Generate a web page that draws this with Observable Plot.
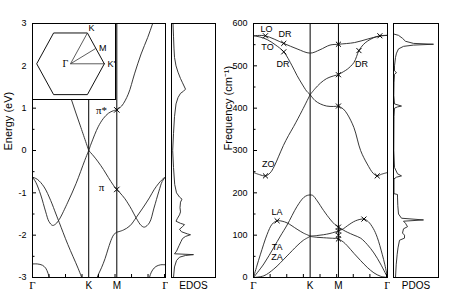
<!DOCTYPE html>
<html><head><meta charset="utf-8">
<script src="https://cdn.jsdelivr.net/npm/d3@7"></script>
<script src="https://cdn.jsdelivr.net/npm/@observablehq/plot@0.6"></script>
<style>
body{margin:0;background:#fff;}
#chart{position:relative;width:463px;height:298px;overflow:hidden;background:#fff;}
</style></head><body><div id="chart"></div>
<script>
// ---- high-symmetry path (length in 1/Å) ----
const symK = [0, 1.703, 2.554, 4.029];
const symLabels = ["Γ", "K", "M", "Γ"];
const kMinor = [0.5, 1, 1.5, 2, 2.5, 3, 3.5, 4];

// ---- electronic bands (eV) ----
const eMajor = [-3, -2, -1, 0, 1, 2, 3];
const eMinor = [-2.5, -1.5, -0.5, 0.5, 1.5, 2.5];
const piStarGK = [[0.6,2.9],[0.9,1.95],[1.18,1.2],[1.45,0.58],[1.703,0]];
const piStarKM = [[1.703,0],[1.786,0.18],[1.99,0.56],[2.15,0.76],[2.30,0.88],[2.45,0.94],[2.554,0.96]];
const piStarMG = [[2.554,0.96],[2.70,1.05],[2.90,1.33],[3.09,1.81],[3.29,2.28],[3.49,2.67],[3.64,3.0],[3.75,3.25]];
const piGK = [[0,-0.63],[0.1,-0.75],[0.25,-1.05],[0.40,-1.45],[0.50,-1.68],[0.61,-1.77],[0.71,-1.73],[0.81,-1.63],[1.07,-1.22],[1.32,-0.78],[1.58,-0.24],[1.703,0]];
const sigmaGK = [[0,-0.63],[0.145,-0.68],[0.35,-0.86],[0.55,-1.18],[0.71,-1.50],[0.81,-1.70],[1.07,-2.22],[1.38,-2.78],[1.53,-3.08]];
const sigma2GK = [[0,-2.68],[0.145,-2.68],[0.30,-2.71],[0.40,-2.78],[0.47,-2.90],[0.52,-3.05]];
const piKM = [[1.703,0],[1.85,-0.13],[1.99,-0.27],[2.15,-0.45],[2.30,-0.64],[2.45,-0.82],[2.554,-0.92]];
const sigmaKM = [[1.93,-3.05],[2.0,-2.92],[2.09,-2.77],[2.20,-2.55],[2.30,-2.30],[2.40,-2.08],[2.47,-1.98],[2.554,-1.93]];
const piMG = [[2.554,-0.92],[2.65,-1.0],[2.80,-1.14],[3.0,-1.39],[3.144,-1.60],[3.29,-1.77],[3.39,-1.81],[3.54,-1.71],[3.68,-1.36],[3.83,-0.96],[3.93,-0.73],[4.029,-0.63]];
const sigmaMG = [[2.554,-1.93],[2.75,-1.88],[2.95,-1.78],[3.144,-1.58],[3.34,-1.36],[3.54,-1.12],[3.68,-0.93],[3.83,-0.77],[3.98,-0.65],[4.029,-0.63]];
const sigma2MG = [[3.53,-3.05],[3.57,-2.93],[3.64,-2.82],[3.74,-2.74],[3.88,-2.70],[4.029,-2.70]];
const bandCrosses = [[2.554,0.96],[2.554,-0.92]];
const bandNotes = [{k:2.09,v:0.95,t:"π*"},{k:2.09,v:-0.88,t:"π"}];

// ---- EDOS (arbitrary units) ----
const edosE = [3.0,2.7,2.4,2.2,2.0,1.85,1.7,1.6,1.5,1.45,1.40,1.35,1.25,1.1,0.8,0.4,0.0,-0.4,-0.8,-1.0,-1.1,-1.15,-1.22,-1.35,-1.45,-1.52,-1.6,-1.67,-1.72,-1.75,-1.8,-1.86,-1.92,-1.97,-1.99,-2.03,-2.08,-2.15,-2.25,-2.38,-2.44,-2.46,-2.48,-2.52,-2.6,-2.75,-3.0];
const edosVal = [1.5,2,2.5,3,4.5,6.5,9,11,13,14,12,9,6.5,4.5,3,2,1.2,2,3.2,5,8,10.5,9,8.5,9,8,6,4.5,9,13,11,8,10,16,19,14,11,9.5,7.5,5,3,22,14,8,5,3,2];

// ---- Brillouin-zone inset ----
const hexagon = [[1,0],[0.5,0.866],[-0.5,0.866],[-1,0],[-0.5,-0.866],[0.5,-0.866],[1,0]];
const bzPoints = [{x:0,y:0,t:"Γ"},{x:0.5,y:0.866,t:"K"},{x:0.75,y:0.433,t:"M"},{x:1,y:0,t:"K'"}];

// ---- phonons (cm^-1) ----
const fMajor = [0, 100, 200, 300, 400, 500, 600];
const fMinor = [50, 150, 250, 350, 450, 550];
const loBranch = [[0,571],[0.34,571],[0.91,553],[1.31,540],[1.703,530],[2.0,538],[2.3,549],[2.554,551],[3.04,555],[3.42,563],[3.77,570],[4.029,572]];
const toGK = [[0,571],[0.2,568],[0.41,562],[0.65,550],[0.91,533],[1.16,500],[1.31,477],[1.46,457],[1.6,440],[1.703,432]];
const zoGK = [[0,248],[0.18,243],[0.36,240],[0.5,247],[0.62,262],[0.75,285],[0.9,312],[1.05,335],[1.21,357],[1.46,394],[1.703,432]];
const upKM = [[1.703,432],[1.85,446],[2.01,459],[2.2,470],[2.4,476],[2.554,479]];
const downKM = [[1.703,432],[1.85,418],[2.01,410],[2.2,405],[2.4,404],[2.554,405]];
const upMG = [[2.554,479],[2.7,486],[2.82,492],[3.02,508],[3.17,536],[3.3,550],[3.42,558],[3.6,566],[3.8,571],[4.029,572]];
const downMG = [[2.554,405],[2.7,398],[2.82,386],[3.02,354],[3.22,300],[3.42,268],[3.6,246],[3.72,240],[3.85,244],[4.029,248]];
const laGK = [[0,0],[0.1,27],[0.21,55],[0.41,102],[0.56,126],[0.71,134],[0.86,133],[1.01,129],[1.31,114],[1.5,105],[1.703,98]];
const taGK = [[0,0],[0.31,32],[0.61,71],[0.81,98],[1.01,124],[1.31,168],[1.51,189],[1.62,194],[1.703,195]];
const zaGK = [[0,0],[0.31,4],[0.61,20],[1.01,51],[1.31,75],[1.5,88],[1.703,97]];
const topKM = [[1.703,195],[1.78,194],[1.915,181],[2.11,158],[2.32,136],[2.45,125],[2.554,119]];
const midKM = [[1.703,98],[1.9,99],[2.1,101],[2.3,104],[2.554,110]];
const lowKM = [[1.703,97],[1.9,95],[2.1,94],[2.3,93],[2.554,92]];
const laMG = [[2.554,110],[2.7,115],[2.82,122],[3.07,134],[3.32,138],[3.45,132],[3.6,116],[3.72,95],[3.87,55],[3.95,30],[4.029,0]];
const taMG = [[2.554,119],[2.7,112],[2.82,107],[3.02,100],[3.22,93],[3.42,78],[3.62,58],[3.82,32],[4.029,0]];
const zaMG = [[2.554,91],[2.7,84],[2.82,75],[3.02,57],[3.22,40],[3.42,24],[3.62,11],[3.82,3],[4.029,0]];
const phCrosses = [[0.36,571],[0.91,553],[0.91,533],[0.36,240],[0.71,134],[2.554,551],[2.554,479],[2.554,405],[2.554,119],[2.554,110],[2.554,100],[2.554,91],[3.17,536],[3.8,571],[3.72,240],[3.32,138]];
const phNotes = [{k:0.39,f:587,t:"LO"},{k:0.95,f:575,t:"DR"},{k:0.42,f:545,t:"TO"},{k:0.89,f:504,t:"DR"},{k:3.25,f:504,t:"DR"},{k:0.44,f:268,t:"ZO"},{k:0.71,f:154,t:"LA"},{k:0.71,f:71,t:"TA"},{k:0.71,f:47,t:"ZA"}];

// ---- PDOS (arbitrary units) ----
const pdosF = [575,572,565,558,553,551,549,546,540,530,520,500,488,484,480,460,430,410,405,403,400,380,300,260,245,240,237,233,198,196,190,170,150,140,136,133,128,120,115,105,100,93,88,70,55,30,0];
const pdosVal = [0.5,5,9,12,20,40,20,10,5,3,2,1,1,3,1,0.5,0.3,1,8,4,1,0.5,0.3,1,4,8,3,0.5,0.5,4,4,4.3,5,8,30,10,12,14,10,9,11,11,6,4.5,3.7,2.7,2];

// ---------------------------------------------------------------
const SANS = "'Liberation Sans', Arial, Helvetica, sans-serif";
const SERIF = "'Liberation Serif', 'Times New Roman', serif";
const chart = document.getElementById("chart");
const xEnd = symK[3];
const rowsOf = (obj) => Object.entries(obj).flatMap(([s, pts]) => pts.map(([k, v]) => ({s, k, v})));

const bandRows = rowsOf({piStarGK, piStarKM, piStarMG, piGK, sigmaGK, sigma2GK, piKM, sigmaKM, piMG, sigmaMG, sigma2MG});
const phRows = rowsOf({loBranch, toGK, zoGK, upKM, downKM, upMG, downMG, laGK, taGK, zaGK, topKM, midKM, lowKM, laMG, taMG, zaMG});
const symRows = symK.map((k, i) => ({k, t: symLabels[i]}));
const edosRows = edosE.map((e, i) => ({e, d: edosVal[i]}));
const pdosRows = pdosF.map((f, i) => ({f, d: pdosVal[i]}));

function place(svg, left, top) {
  svg.style.position = "absolute";
  svg.style.left = left + "px";
  svg.style.top = top + "px";
  chart.appendChild(svg);
}
const baseStyle = {fontFamily: SANS, fontSize: "9px", background: "transparent", color: "black"};
const lineOpts = {curve: "catmull-rom", stroke: "#222", strokeWidth: 0.9, clip: true};

function symAxis() {
  return [
    Plot.text(symRows.filter(d => d.t === "Γ"), {x: "k", text: "t", frameAnchor: "bottom", dy: 11, fontFamily: SERIF, fontSize: 11}),
    Plot.text(symRows.filter(d => d.t !== "Γ"), {x: "k", text: "t", frameAnchor: "bottom", dy: 11, fontSize: 10})
  ];
}

// Band structure
place(Plot.plot({
  width: 168, height: 298, marginLeft: 32, marginRight: 3, marginTop: 23, marginBottom: 21,
  x: {domain: [0, xEnd], label: null}, y: {domain: [-3, 3], label: null},
  style: baseStyle,
  marks: [
    Plot.ruleX([symK[1], symK[2]], {stroke: "black", strokeWidth: 1}),
    Plot.line(bandRows, {x: "k", y: "v", z: "s", ...lineOpts}),
    Plot.dot(bandCrosses, {x: d => d[0], y: d => d[1], symbol: "times", r: 2.6, stroke: "black", strokeWidth: 1}),
    Plot.text(bandNotes, {x: "k", y: "v", text: "t", fontFamily: SERIF, fontSize: 11}),
    Plot.axisY({ticks: eMajor, tickSize: -4, tickPadding: 10, tickFormat: d => String(d), label: null}),
    Plot.axisY({ticks: eMinor, tickSize: -2.5, tickFormat: () => "", label: null}),
    Plot.axisX({ticks: kMinor, tickSize: -3, tickFormat: () => "", label: null}),
    ...symAxis(),
    Plot.frame({stroke: "black"}),
    Plot.text(["Energy (eV)"], {frameAnchor: "left", dx: -24, rotate: -90, fontSize: 11})
  ]
}), 0, 0);

// Brillouin-zone inset
place(Plot.plot({
  width: 85, height: 78, margin: 1,
  x: {domain: [-1.124, 1.331], axis: null}, y: {domain: [-1.003, 1.132], axis: null},
  style: {fontFamily: SANS, fontSize: "9px", background: "white", color: "black"},
  marks: [
    Plot.frame({fill: "white", stroke: "black"}),
    Plot.line(hexagon, {x: d => d[0], y: d => d[1], stroke: "#111", strokeWidth: 1}),
    Plot.link(bzPoints.slice(1), {x1: 0, y1: 0, x2: "x", y2: "y", stroke: "#333", strokeWidth: 0.8}),
    Plot.text(bzPoints.filter(d => d.t === "Γ"), {x: "x", y: "y", text: "t", dx: -5, fontFamily: SERIF, fontSize: 10}),
    Plot.text(bzPoints.filter(d => d.t === "K"), {x: "x", y: "y", text: "t", dx: 4, dy: -5}),
    Plot.text(bzPoints.filter(d => d.t !== "K" && d.t !== "Γ"), {x: "x", y: "y", text: "t", dx: 7})
  ]
}), 31, 22);

// EDOS
place(Plot.plot({
  width: 52, height: 298, marginLeft: 3, marginRight: 5, marginTop: 23, marginBottom: 21,
  x: {domain: [0, 44], axis: null}, y: {domain: [-3, 3], axis: null},
  style: baseStyle,
  marks: [
    Plot.line(edosRows, {x: "d", y: "e", stroke: "#222", strokeWidth: 0.9, clip: true}),
    Plot.frame({stroke: "black"}),
    Plot.text(["EDOS"], {frameAnchor: "bottom", dy: 11, fontSize: 10})
  ]
}), 168, 0);

// Phonon dispersion
place(Plot.plot({
  width: 170, height: 298, marginLeft: 33, marginRight: 3, marginTop: 23, marginBottom: 21,
  x: {domain: [0, xEnd], label: null}, y: {domain: [0, 600], label: null},
  style: baseStyle,
  marks: [
    Plot.ruleX([symK[1], symK[2]], {stroke: "black", strokeWidth: 1}),
    Plot.line(phRows, {x: "k", y: "v", z: "s", ...lineOpts}),
    Plot.dot(phCrosses, {x: d => d[0], y: d => d[1], symbol: "times", r: 2.4, stroke: "black", strokeWidth: 1}),
    Plot.text(phNotes, {x: "k", y: "f", text: "t", fontSize: 9}),
    Plot.axisY({ticks: fMajor, tickSize: -4, tickPadding: 10, tickFormat: d => String(d), label: null}),
    Plot.axisY({ticks: fMinor, tickSize: -2.5, tickFormat: () => "", label: null}),
    Plot.axisX({ticks: kMinor, tickSize: -3, tickFormat: () => "", label: null}),
    ...symAxis(),
    Plot.frame({stroke: "black"}),
    Plot.text(["Frequency (cm⁻¹)"], {frameAnchor: "left", dx: -25, rotate: -90, fontSize: 11})
  ]
}), 220, 0);

// PDOS
place(Plot.plot({
  width: 73, height: 298, marginLeft: 3, marginRight: 25, marginTop: 23, marginBottom: 21,
  x: {domain: [0, 45], axis: null}, y: {domain: [0, 600], axis: null},
  style: baseStyle,
  marks: [
    Plot.line(pdosRows, {x: "d", y: "f", stroke: "#222", strokeWidth: 0.9, clip: true}),
    Plot.frame({stroke: "black"}),
    Plot.text(["PDOS"], {frameAnchor: "bottom", dy: 11, fontSize: 10})
  ]
}), 390, 0);
</script></body></html>
